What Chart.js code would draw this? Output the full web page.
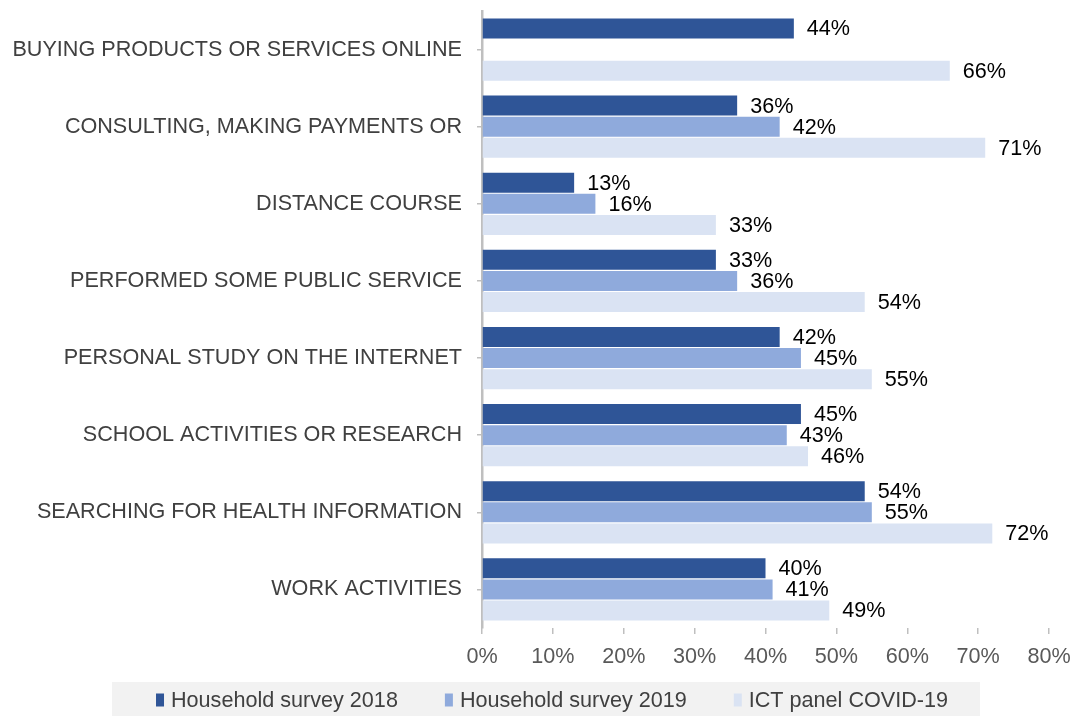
<!DOCTYPE html>
<html>
<head>
<meta charset="utf-8">
<script src="https://cdn.jsdelivr.net/npm/chart.js@4/dist/chart.umd.min.js"></script>
<style>
  html, body { margin: 0; padding: 0; background: #ffffff; }
  #wrap { width: 1075px; height: 716px; position: relative; }
</style>
</head>
<body>
<div id="wrap"><canvas id="c" width="1075" height="716"></canvas></div>
<script>
const categories = [
  'BUYING PRODUCTS OR SERVICES ONLINE',
  'CONSULTING, MAKING PAYMENTS OR',
  'DISTANCE COURSE',
  'PERFORMED SOME PUBLIC SERVICE',
  'PERSONAL STUDY ON THE INTERNET',
  'SCHOOL ACTIVITIES OR RESEARCH',
  'SEARCHING FOR HEALTH INFORMATION',
  'WORK ACTIVITIES'
];
const seriesNames = ['Household survey 2018', 'Household survey 2019', 'ICT panel COVID-19'];
const survey2018 = [44, 36, 13, 33, 42, 45, 54, 40];
const survey2019 = [null, 42, 16, 36, 45, 43, 55, 41];
const covidPanel = [66, 71, 33, 54, 55, 46, 72, 49];
const xTicks = [0, 10, 20, 30, 40, 50, 60, 70, 80];

const colors = ['#2F5597', '#8FAADC', '#DAE3F3'];
const FONT = 'Liberation Sans, Arial, Helvetica, sans-serif';
const FS = 21.6;

const valueLabels = {
  id: 'valueLabels',
  afterDatasetsDraw(chart) {
    const ctx = chart.ctx;
    ctx.save();
    ctx.font = FS + 'px ' + FONT;
    ctx.fillStyle = '#000000';
    ctx.textAlign = 'left';
    ctx.textBaseline = 'middle';
    chart.data.datasets.forEach((ds, di) => {
      const meta = chart.getDatasetMeta(di);
      meta.data.forEach((bar, i) => {
        const v = ds.data[i];
        if (v === null || v === undefined) return;
        ctx.fillText(v + '%', bar.x + 13, bar.y + 1);
      });
    });
    ctx.restore();
  }
};

const customLegend = {
  id: 'customLegend',
  afterDraw(chart) {
    const ctx = chart.ctx;
    ctx.save();
    ctx.font = FS + 'px ' + FONT;
    const boxW = 8, boxH = 13, gapText = 7, gapItem = 47;
    const items = chart.data.datasets.map(ds => ({
      text: ds.label, color: ds.backgroundColor, w: ctx.measureText(ds.label).width
    }));
    let total = 0;
    items.forEach((it, i) => { total += boxW + gapText + it.w + (i < items.length - 1 ? gapItem : 0); });
    const cx = 552;
    const cy = 700;
    const bgLeft = cx - total / 2 - 44;
    const bgRight = cx + total / 2 + 32;
    ctx.fillStyle = '#F2F2F2';
    ctx.fillRect(bgLeft, 682, bgRight - bgLeft, 34);
    let x = cx - total / 2;
    items.forEach(it => {
      ctx.fillStyle = it.color;
      ctx.fillRect(x, cy - boxH / 2, boxW, boxH);
      x += boxW + gapText;
      ctx.fillStyle = '#404040';
      ctx.textAlign = 'left';
      ctx.textBaseline = 'middle';
      ctx.fillText(it.text, x, cy + 1);
      x += it.w + gapItem;
    });
    ctx.restore();
  }
};

new Chart(document.getElementById('c'), {
  type: 'bar',
  data: {
    labels: categories,
    datasets: [
      { label: seriesNames[0], data: survey2018, backgroundColor: colors[0] },
      { label: seriesNames[1], data: survey2019, backgroundColor: colors[1] },
      { label: seriesNames[2], data: covidPanel, backgroundColor: colors[2] }
    ]
  },
  options: {
    indexAxis: 'y',
    responsive: false,
    animation: false,
    devicePixelRatio: 1,
    categoryPercentage: 0.82,
    barPercentage: 0.95,
    layout: { padding: { top: 11, right: 26, bottom: 47, left: 0 } },
    plugins: {
      legend: { display: false },
      tooltip: { enabled: false }
    },
    scales: {
      x: {
        min: 0, max: 80,
        afterBuildTicks(scale) { scale.ticks = xTicks.map(v => ({ value: v })); },
        afterFit(scale) { scale.height = 41; scale.paddingLeft = 0; scale.paddingRight = 0; },
        border: { display: false },
        grid: { drawOnChartArea: false, drawTicks: true, tickLength: 6, color: '#BFBFBF', lineWidth: 1.5 },
        ticks: {
          callback: v => v + '%',
          padding: 10,
          color: '#595959',
          font: { family: FONT, size: FS }
        }
      },
      y: {
        afterFit(scale) { scale.width = 482; scale.paddingTop = 0; scale.paddingBottom = 0; },
        border: { display: true, color: '#BFBFBF', width: 2.5 },
        grid: { offset: false, drawOnChartArea: false, drawTicks: true, tickLength: 5, color: '#BFBFBF', lineWidth: 1.5 },
        ticks: {
          padding: 15,
          color: '#404040',
          font: { family: FONT, size: FS }
        }
      }
    }
  },
  plugins: [valueLabels, customLegend]
});
</script>
</body>
</html>
